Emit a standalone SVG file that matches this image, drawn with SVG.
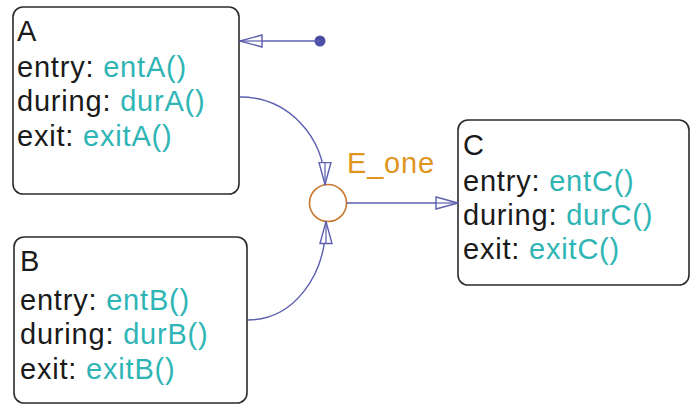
<svg xmlns="http://www.w3.org/2000/svg" width="691" height="405" viewBox="0 0 691 405">
<defs>
<style>
.box{fill:#fff;stroke:#2b2b2b;stroke-width:1.6}
.t{font-family:"Liberation Sans",Arial,sans-serif;font-size:29px;letter-spacing:0.8px;fill:#1a1a1a}
.a{fill:#2fb5b5}
.edge{fill:none;stroke:#5b5fae;stroke-width:1.4}
.lbl{font-family:"Liberation Sans",Arial,sans-serif;font-size:29px;letter-spacing:0.8px;fill:#e0951f}
</style>
<marker id="arr" viewBox="0 0 24 14" refX="23" refY="7" markerWidth="24" markerHeight="14" markerUnits="userSpaceOnUse" orient="auto">
<polygon points="1,1 23,7 1,13" fill="#fff" stroke="#5b5fae" stroke-width="1.4"/>
<line x1="1" y1="7" x2="23" y2="7" stroke="#5b5fae" stroke-width="1.2"/>
</marker>
</defs>
<g id="A">
<rect class="box" x="13" y="7" width="226" height="187" rx="10"/>
<text class="t" x="17" y="41">A</text>
<text class="t" x="17" y="77">entry: <tspan class="a">entA()</tspan></text>
<text class="t" x="17" y="111">during: <tspan class="a">durA()</tspan></text>
<text class="t" x="17" y="146">exit: <tspan class="a">exitA()</tspan></text>
</g>
<g id="B">
<rect class="box" x="14" y="237" width="233" height="166" rx="10"/>
<text class="t" x="20" y="271">B</text>
<text class="t" x="20" y="310">entry: <tspan class="a">entB()</tspan></text>
<text class="t" x="20" y="344">during: <tspan class="a">durB()</tspan></text>
<text class="t" x="20" y="379">exit: <tspan class="a">exitB()</tspan></text>
</g>
<g id="C">
<rect class="box" x="458" y="120" width="231" height="165" rx="10"/>
<text class="t" x="463" y="155">C</text>
<text class="t" x="463" y="191">entry: <tspan class="a">entC()</tspan></text>
<text class="t" x="463" y="225">during: <tspan class="a">durC()</tspan></text>
<text class="t" x="463" y="259">exit: <tspan class="a">exitC()</tspan></text>
</g>
<g id="junction">
<circle cx="328" cy="203" r="18.5" fill="#fff" stroke="#c8782e" stroke-width="1.6"/>
</g>
<g id="connectors">
<circle cx="320" cy="41" r="5.5" fill="#4c4fa6"/>
<path class="edge" d="M320,41 L240,41" marker-end="url(#arr)"/>
<path class="edge" d="M240,97 C288,97 325,137 325,184.5" marker-end="url(#arr)"/>
<path class="edge" d="M248,320 C292,320 326,278 326,221.5" marker-end="url(#arr)"/>
<path class="edge" d="M346.5,203 L458,203" marker-end="url(#arr)"/>
<text class="lbl" x="347" y="173">E_one</text>
</g>
</svg>
